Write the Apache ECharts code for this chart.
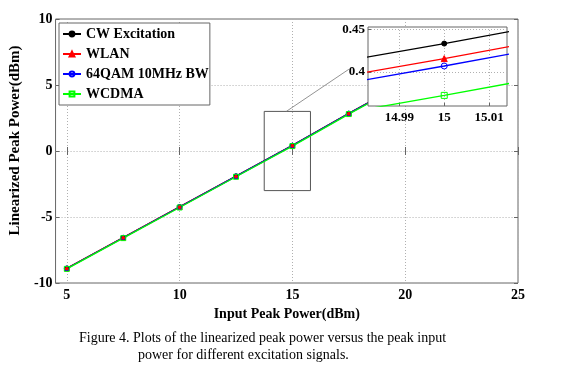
<!DOCTYPE html>
<html><head><meta charset="utf-8">
<script src="https://cdn.jsdelivr.net/npm/echarts@6/dist/echarts.min.js"></script>
<style>html,body{margin:0;padding:0;background:#fff}#c{width:569px;height:372px}</style>
</head><body><div id="c"></div>
<script>
// ---- data ----
const inputPower = [5, 7.5, 10, 12.5, 15, 17.5, 20, 22.5];
const cwExcitation = [-8.88, -6.55, -4.22, -1.89, 0.4335, 2.86, 5.2, 7.55];
const wlan = [-8.89, -6.56, -4.235, -1.909, 0.4158, 2.841, 5.18, 7.53];
const qam64 = [-8.90, -6.57, -4.245, -1.918, 0.4071, 2.832, 5.17, 7.52];
const wcdma = [-8.93, -6.60, -4.28, -1.9525, 0.3725, 2.7975, 5.13, 7.48];
const seriesNames = ['CW Excitation', 'WLAN', '64QAM 10MHz BW', 'WCDMA'];
const xTicks = [5, 10, 15, 20, 25];
const yTicks = [-10, -5, 0, 5, 10];
const insetXTicks = [14.99, 15, 15.01];
const insetYTicks = [0.4, 0.45];
const zoomBox = {x: [13.75, 15.8], y: [-3, 3]};
const connector = [[14.73, 3], [17.5, 6.19]];
const xTitle = 'Input Peak Power(dBm)';
const yTitle = 'Linearized Peak Power(dBm)';
const caption1 = 'Figure 4. Plots of the linearized peak power versus the peak input';
const caption2 = 'power for different excitation signals.';

const FONT = '"Liberation Serif", "Times New Roman", serif';
const AX = '#666';
const GRIDLINE = {color: '#b0b0b0', type: [1, 2], width: 1};

const styles = [
  {color: '#000000', symbol: 'circle', size: 4, fill: '#000000'},
  {color: '#ff0000', symbol: 'triangle', size: 5, fill: '#ff0000'},
  {color: '#0000ff', symbol: 'circle', size: 5, fill: 'rgba(0,0,0,0)'},
  {color: '#00ff00', symbol: 'rect', size: 5, fill: 'rgba(0,0,0,0)'}
];
const values = [cwExcitation, wlan, qam64, wcdma];

function pairs(v) { return inputPower.map((x, i) => [x, v[i]]); }

function mk(i, axIdx, z) {
  const s = styles[i];
  return {
    name: seriesNames[i], type: 'line', data: pairs(values[i]),
    xAxisIndex: axIdx, yAxisIndex: axIdx, z: z,
    symbol: s.symbol, symbolSize: s.size, showSymbol: true,
    lineStyle: {color: s.color, width: 1.3},
    itemStyle: {color: s.fill, borderColor: s.color, borderWidth: 1},
    color: s.color, animation: false, clip: true
  };
}

const tickLabel = {fontFamily: FONT, fontWeight: 'bold', fontSize: 14, color: '#000'};

const series = [];
for (let i = 0; i < 4; i++) series.push(mk(i, 0, 2));
series[0].markArea = {
  silent: true,
  itemStyle: {color: 'rgba(0,0,0,0)', borderColor: '#555', borderWidth: 1},
  data: [[{coord: [zoomBox.x[0], zoomBox.y[1]]}, {coord: [zoomBox.x[1], zoomBox.y[0]]}]]
};
series[0].markLine = {
  silent: true, symbol: 'none', label: {show: false},
  lineStyle: {color: '#777', type: 'solid', width: 0.8},
  data: [[{coord: connector[0]}, {coord: connector[1]}]]
};
for (let i = 0; i < 4; i++) { const s = mk(i, 1, 8); s.symbolSize = styles[i].size + 1; series.push(s); }

const option = {
  animation: false,
  backgroundColor: '#fff',
  grid: [
    {left: 55, top: 19, width: 463, height: 264, show: true, borderColor: AX, borderWidth: 1, backgroundColor: 'rgba(0,0,0,0)'},
    {left: 368, top: 27, width: 139, height: 79, show: true, borderColor: AX, borderWidth: 1, backgroundColor: '#fff', z: 5}
  ],
  legend: {
    data: seriesNames, orient: 'vertical', left: 59, top: 23,
    padding: [4, 1, 4, 3], itemWidth: 18, itemHeight: 6, itemGap: 6,
    backgroundColor: '#fff', borderColor: AX, borderWidth: 1,
    textStyle: {fontFamily: FONT, fontWeight: 'bold', fontSize: 14, color: '#000'}
  },
  xAxis: [
    {gridIndex: 0, type: 'value', min: 4.5, max: 25,
     name: xTitle, nameLocation: 'middle', nameGap: 21,
     nameTextStyle: {fontFamily: FONT, fontWeight: 'bold', fontSize: 14, color: '#000'},
     axisLine: {show: false},
     axisTick: {show: true, inside: true, length: 4, customValues: xTicks, lineStyle: {color: AX}},
     axisLabel: Object.assign({customValues: xTicks, margin: 5}, tickLabel),
     splitLine: {show: true, lineStyle: GRIDLINE}},
    {gridIndex: 1, type: 'value', min: 14.983, max: 15.014, z: 6,
     axisLine: {show: false},
     axisTick: {show: true, inside: true, length: 3, customValues: insetXTicks, lineStyle: {color: AX}},
     axisLabel: Object.assign({customValues: insetXTicks, margin: 5,
       formatter: v => (Math.abs(v - 15) < 1e-9 ? '15' : v.toFixed(2))}, tickLabel, {fontSize: 13}),
     splitLine: {show: true, lineStyle: GRIDLINE}},
    {gridIndex: 0, type: 'value', min: 4.5, max: 25, position: 'top',
     axisLine: {show: false}, axisLabel: {show: false}, splitLine: {show: false},
     axisTick: {show: true, inside: true, length: 4, customValues: xTicks, lineStyle: {color: AX}}}
  ],
  yAxis: [
    {gridIndex: 0, type: 'value', min: -10, max: 10, interval: 5,
     name: yTitle, nameLocation: 'middle', nameGap: 23,
     nameTextStyle: {fontFamily: FONT, fontWeight: 'bold', fontSize: 15, color: '#000', padding: [0, 0, 0, 21]},
     axisLine: {show: false},
     axisTick: {show: true, inside: true, length: 4, lineStyle: {color: AX}},
     axisLabel: Object.assign({margin: 3}, tickLabel),
     splitLine: {show: true, lineStyle: GRIDLINE}},
    {gridIndex: 1, type: 'value', min: 0.36, max: 0.453, z: 6,
     axisLine: {show: false},
     axisTick: {show: true, inside: true, length: 3, customValues: insetYTicks, lineStyle: {color: AX}},
     axisLabel: Object.assign({customValues: insetYTicks, margin: 3}, tickLabel, {fontSize: 13}),
     splitLine: {show: true, lineStyle: GRIDLINE}},
    {gridIndex: 0, type: 'value', min: -10, max: 10, interval: 5, position: 'right',
     axisLine: {show: false}, axisLabel: {show: false}, splitLine: {show: false},
     axisTick: {show: true, inside: true, length: 4, lineStyle: {color: AX}}}
  ],
  series: series,
  graphic: [
    {type: 'text', left: 79, top: 331, silent: true,
     style: {text: caption1, font: '14px ' + FONT, fill: '#000'}},
    {type: 'text', left: 138, top: 348, silent: true,
     style: {text: caption2, font: '14px ' + FONT, fill: '#000'}}
  ]
};

const chart = echarts.init(document.getElementById('c'), null, {renderer: 'canvas'});
chart.setOption(option);
</script>
</body></html>
